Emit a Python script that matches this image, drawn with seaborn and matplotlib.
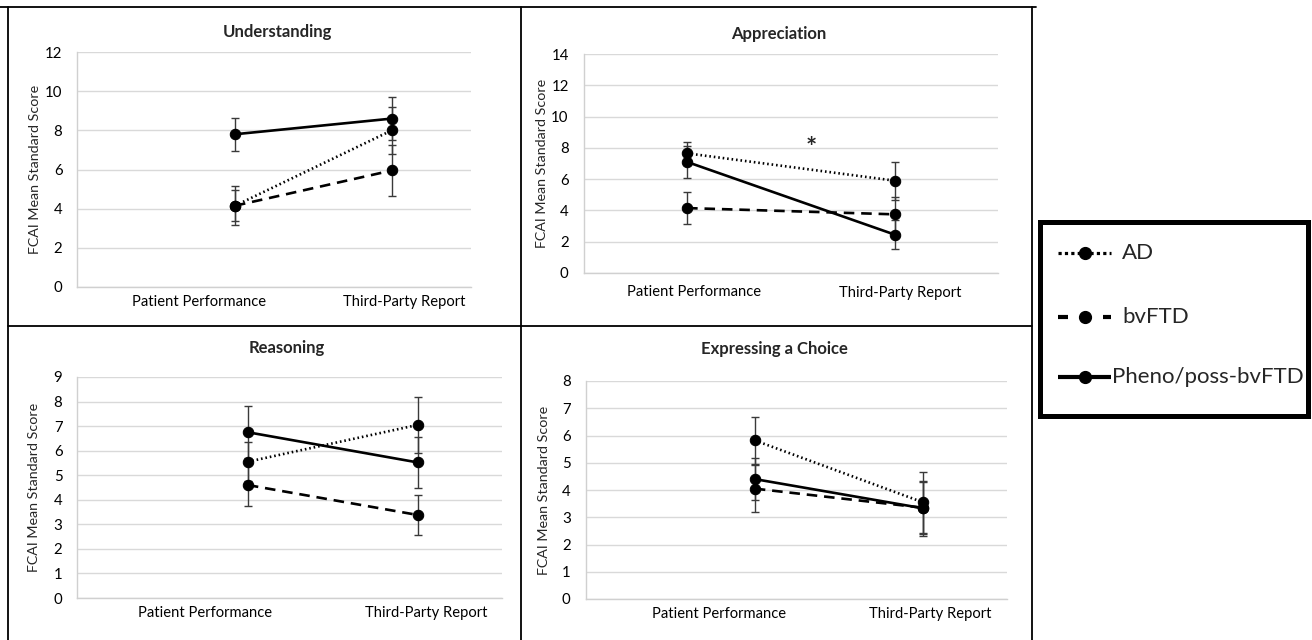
import matplotlib
matplotlib.use("Agg")
import matplotlib.pyplot as plt
import pandas as pd
import seaborn as sns
from matplotlib.lines import Line2D
from matplotlib.patches import Rectangle

# ---- data -------------------------------------------------------------
conditions = ["Patient Performance", "Third-Party Report"]
groups = ["AD", "bvFTD", "Pheno/poss-bvFTD"]
domains = ["Understanding", "Appreciation", "Reasoning", "Expressing a Choice"]

# mean standard scores [Patient Performance, Third-Party Report]
understanding_mean = {"AD": [4.15, 8.0], "bvFTD": [4.15, 5.95], "Pheno/poss-bvFTD": [7.8, 8.6]}
appreciation_mean = {"AD": [7.65, 5.9], "bvFTD": [4.15, 3.75], "Pheno/poss-bvFTD": [7.1, 2.45]}
reasoning_mean = {"AD": [5.55, 7.05], "bvFTD": [4.6, 3.38], "Pheno/poss-bvFTD": [6.75, 5.52]}
choice_mean = {"AD": [5.82, 3.55], "bvFTD": [4.05, 3.35], "Pheno/poss-bvFTD": [4.4, 3.33]}

# standard errors
understanding_err = {"AD": [1.0, 1.2], "bvFTD": [0.8, 1.3], "Pheno/poss-bvFTD": [0.85, 1.1]}
appreciation_err = {"AD": [0.75, 1.22], "bvFTD": [1.0, 1.1], "Pheno/poss-bvFTD": [1.0, 0.93]}
reasoning_err = {"AD": [0.8, 1.15], "bvFTD": [0.85, 0.82], "Pheno/poss-bvFTD": [1.05, 1.05]}
choice_err = {"AD": [0.87, 1.12], "bvFTD": [0.85, 0.95], "Pheno/poss-bvFTD": [0.78, 1.0]}

y_max = [12, 14, 9, 8]
y_step = [2, 2, 1, 1]

means = [understanding_mean, appreciation_mean, reasoning_mean, choice_mean]
errs = [understanding_err, appreciation_err, reasoning_err, choice_err]

rows = []
for d, m, e in zip(domains, means, errs):
    for g in groups:
        for i, c in enumerate(conditions):
            rows.append({"domain": d, "group": g, "condition": c, "pos": i,
                         "mean": m[g][i], "err": e[g][i]})
df = pd.DataFrame(rows)

# ---- styling ----------------------------------------------------------
sns.set_theme(style="white")
plt.rcParams["font.family"] = ["Lato", "DejaVu Sans"]

W, H = 1312, 640
fig = plt.figure(figsize=(W / 100, H / 100), dpi=100)

dash_map = {"AD": (0.6, 1.1), "bvFTD": (4, 2.6), "Pheno/poss-bvFTD": ""}

# pixel layout of each panel: plot box, point fractions, label fractions
panels = [
    dict(box=(77, 52, 471, 287), pts=(0.401, 0.799), lbl=(0.310, 0.830),
         title=(277, 32), ylab_x=41, xpad=6.0, ypad=10.5),
    dict(box=(584, 54, 998, 273), pts=(0.249, 0.751), lbl=(0.266, 0.763),
         title=(779, 34), ylab_x=548, xpad=9.0, ypad=11.0),
    dict(box=(77, 377, 502, 598), pts=(0.402, 0.802), lbl=(0.301, 0.821),
         title=(287, 348), ylab_x=40, xpad=5.5, ypad=10.5),
    dict(box=(586, 381, 1007, 599), pts=(0.401, 0.800), lbl=(0.316, 0.818),
         title=(774, 349), ylab_x=550, xpad=5.5, ypad=11.0),
]

for k, (dom, p) in enumerate(zip(domains, panels)):
    l, t, r, b = p["box"]
    ax = fig.add_axes([l / W, 1 - b / H, (r - l) / W, (b - t) / H])
    sub = df[df["domain"] == dom]

    for g in groups:
        gs = sub[sub["group"] == g]
        ax.errorbar(gs["pos"], gs["mean"], yerr=gs["err"], fmt="none",
                    ecolor="#3a3a3a", elinewidth=1.0, capsize=3.1,
                    capthick=1.0, zorder=3)

    sns.lineplot(data=sub, x="pos", y="mean", hue="group", style="group",
                 palette=["black"] * 3, dashes=dash_map,
                 markers={g: "o" for g in groups}, markersize=7.5,
                 markeredgecolor="black", linewidth=1.9, legend=False,
                 ax=ax, zorder=4)

    f0, f1 = p["pts"]
    span = 1.0 / (f1 - f0)
    xmin = -f0 * span
    ax.set_xlim(xmin, xmin + span)
    ax.set_ylim(0, y_max[k])
    ax.set_yticks(range(0, y_max[k] + 1, y_step[k]))
    ax.set_xticks([(fl - f0) * span for fl in p["lbl"]])
    ax.set_xticklabels(conditions)
    ax.tick_params(axis="x", length=0, pad=p["xpad"], labelsize=10.6, colors="black")
    ax.tick_params(axis="y", length=0, pad=p["ypad"], labelsize=10.8, colors="black")
    ax.grid(axis="y", color="#d9d9d9", linewidth=1.0)
    ax.set_axisbelow(True)
    for s in ("top", "right"):
        ax.spines[s].set_visible(False)
    for s in ("left", "bottom"):
        ax.spines[s].set_color("#d0d0d0")
        ax.spines[s].set_linewidth(1.0)
    ax.set_xlabel("")
    ax.set_ylabel("FCAI Mean Standard Score", fontsize=10.3)
    ax.yaxis.set_label_coords((p["ylab_x"] - l) / (r - l), 0.5)

    tx, ty = p["title"]
    ax.text((tx - l) / (r - l), 1 + (t - ty) / (b - t), dom,
            transform=ax.transAxes, ha="center", va="center",
            fontsize=12, fontweight="bold")

    if dom == "Appreciation":
        ax.text(0.548, 8.0, "*", transform=ax.get_yaxis_transform(),
                ha="center", va="center", fontsize=19, fontweight="bold")

# panel frames
frame_kw = dict(color="black", linewidth=1.3, transform=fig.transFigure, zorder=10)
for x in (8, 521, 1032):
    fig.add_artist(Line2D([x / W, x / W], [1 - 7 / H, 0], **frame_kw))
fig.add_artist(Line2D([0, 1036 / W], [1 - 7 / H, 1 - 7 / H], **frame_kw))
fig.add_artist(Line2D([8 / W, 1032 / W], [1 - 326 / H, 1 - 326 / H], **frame_kw))

# legend box with line samples
fig.add_artist(Rectangle((1040 / W, 1 - 416 / H), 268 / W, 194 / H,
                         transform=fig.transFigure, fill=False,
                         edgecolor="black", linewidth=3.6, zorder=10))
legend_rows = [253, 317, 377]
legend_text_x = [1122, 1122, 1112]
legend_dashes = [(1.0, 1.0), (2.4, 3.0), None]
legend_lw = [2.3, 3.0, 3.0]
for g, yy, tx, ds, lw in zip(groups, legend_rows, legend_text_x, legend_dashes, legend_lw):
    yf = 1 - yy / H
    ln = Line2D([1058 / W, 1111 / W], [yf, yf], transform=fig.transFigure,
                color="black", linewidth=lw, solid_capstyle="butt",
                dash_capstyle="butt", zorder=11)
    if ds is not None:
        ln.set_dashes(ds)
    fig.add_artist(ln)
    fig.add_artist(Line2D([1085 / W], [yf], transform=fig.transFigure,
                          marker="o", markersize=8.5, color="black",
                          linestyle="none", zorder=12))
    fig.text(tx / W, yf, g, ha="left", va="center", fontsize=16, zorder=12)

fig.savefig("out.png", dpi=100, facecolor="white")
